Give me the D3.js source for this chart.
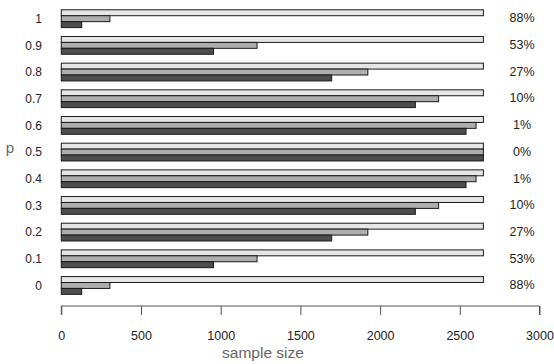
<!DOCTYPE html>
<html>
<head>
<meta charset="utf-8">
<script src="https://cdn.jsdelivr.net/npm/d3@7"></script>
<style>
  body { margin: 0; background: #fff; }
  text { font-family: "Liberation Sans", Arial, sans-serif; }
</style>
</head>
<body>
<svg width="554" height="364"></svg>
<script>
// p values, top to bottom
const pValues = ["1", "0.9", "0.8", "0.7", "0.6", "0.5", "0.4", "0.3", "0.2", "0.1", "0"];

// three sample size series per p (top bar, middle bar, bottom bar)
const sizeTop    = [2648, 2648, 2648, 2648, 2648, 2648, 2648, 2648, 2648, 2648, 2648];
const sizeMiddle = [305, 1228, 1923, 2367, 2602, 2648, 2602, 2367, 1923, 1228, 305];
const sizeBottom = [128, 955, 1696, 2221, 2539, 2648, 2539, 2221, 1696, 955, 128];

const pctLabels = ["88%", "53%", "27%", "10%", "1%", "0%", "1%", "10%", "27%", "53%", "88%"];
const xTicks = [0, 500, 1000, 1500, 2000, 2500, 3000];

const seriesNames = ["top", "middle", "bottom"];
const fills = ["#E6E6E6", "#AEAEAE", "#4D4D4D"];

const rows = pValues.map((p, i) => ({
    p: p,
    pct: pctLabels[i],
    values: [sizeTop[i], sizeMiddle[i], sizeBottom[i]]
}));

const svg = d3.select("svg");

const x = d3.scaleLinear()
    .domain([0, 3000])
    .range([61.3, 539.5]);

const y = d3.scaleBand()
    .domain(pValues)
    .range([5.35, 298.8])
    .paddingInner(1 / 3)
    .paddingOuter(1 / 6);

const ySub = d3.scaleBand()
    .domain(seriesNames)
    .range([0, y.bandwidth()]);

const color = d3.scaleOrdinal()
    .domain(seriesNames)
    .range(fills);

// bars
const group = svg.append("g")
    .selectAll("g")
    .data(rows)
    .enter().append("g")
    .attr("transform", d => `translate(0,${y(d.p)})`);

group.selectAll("rect")
    .data(d => d.values.map((v, j) => ({ key: seriesNames[j], value: v })))
    .enter().append("rect")
    .attr("x", x(0))
    .attr("y", d => ySub(d.key))
    .attr("width", d => x(d.value) - x(0))
    .attr("height", ySub.bandwidth())
    .attr("fill", d => color(d.key))
    .attr("stroke", "#1a1a1a")
    .attr("stroke-width", 1);

// p labels on the left
svg.append("g")
    .selectAll("text")
    .data(rows)
    .enter().append("text")
    .attr("x", 42)
    .attr("y", d => y(d.p) + y.bandwidth() / 2)
    .attr("dy", "0.35em")
    .attr("text-anchor", "end")
    .attr("font-size", 12)
    .attr("fill", "#222")
    .text(d => d.p);

// percentage labels on the right
svg.append("g")
    .selectAll("text")
    .data(rows)
    .enter().append("text")
    .attr("x", 522)
    .attr("y", d => y(d.p) + y.bandwidth() / 2)
    .attr("dy", "0.3em")
    .attr("text-anchor", "middle")
    .attr("font-size", 12.5)
    .attr("fill", "#222")
    .text(d => d.pct);

// x axis
const xAxis = svg.append("g")
    .attr("transform", "translate(0,306)")
    .call(d3.axisBottom(x).tickValues(xTicks).tickSize(9).tickPadding(16).tickFormat(d3.format("d")));

xAxis.select(".domain").attr("stroke", "#555").attr("d", `M${x(0)},9V0H${x(3000)}V9`);
xAxis.selectAll(".tick line").attr("stroke", "#555");
xAxis.selectAll(".tick text")
    .attr("font-size", 12.5)
    .attr("fill", "#222")
    .attr("font-family", "Liberation Sans, Arial, sans-serif");

svg.append("text")
    .attr("x", 263)
    .attr("y", 358)
    .attr("text-anchor", "middle")
    .attr("font-size", 15.5)
    .attr("fill", "#666")
    .text("sample size");

svg.append("text")
    .attr("x", 10)
    .attr("y", 148)
    .attr("dy", "0.35em")
    .attr("text-anchor", "middle")
    .attr("font-size", 15)
    .attr("fill", "#666")
    .text("p");
</script>
</body>
</html>
